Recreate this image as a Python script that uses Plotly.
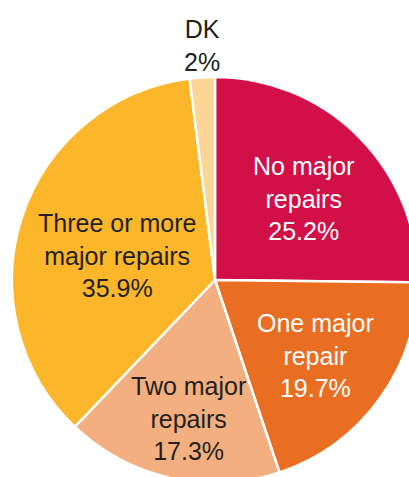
import plotly.graph_objects as go

# Slices, clockwise from 12 o'clock
labels = ["No major<br>repairs", "One major<br>repair", "Two major<br>repairs",
          "Three or more<br>major repairs", "DK"]
values = [25.2, 19.7, 17.3, 35.9, 2.0]
pct_text = ["25.2%", "19.7%", "17.3%", "35.9%", "2%"]
colors = ["#D20F46", "#E96E21", "#F3AF7F", "#FBB729", "#FDD596"]
text_colors = ["white", "white", "#231F20", "#231F20", "#231F20"]

# label centres in page pixels (the pie runs off the right/bottom edge)
label_px = [(303, 198), (315, 355), (188, 418), (117, 256), (202, 45)]

W, H = 430, 560
FONT = "Liberation Sans Narrow, Arial Narrow, Liberation Sans, Arial, sans-serif"

fig = go.Figure(
    go.Pie(
        labels=labels,
        values=values,
        sort=False,
        direction="clockwise",
        rotation=0,
        marker=dict(colors=colors, line=dict(color="white", width=2.5)),
        textinfo="none",
        hoverinfo="label+percent",
        domain=dict(x=[12 / W, 418 / W], y=[(H - 483) / H, (H - 77) / H]),
        showlegend=False,
    )
)

for lab, pct, col, (px, py) in zip(labels, pct_text, text_colors, label_px):
    fig.add_annotation(
        x=px / W, y=1 - py / H, xref="paper", yref="paper",
        text=f"{lab}<br>{pct}", showarrow=False,
        font=dict(family=FONT, size=25, color=col),
        xanchor="center", yanchor="middle", align="center",
    )

fig.update_layout(
    width=W,
    height=H,
    margin=dict(l=0, r=0, t=0, b=0),
    paper_bgcolor="white",
    plot_bgcolor="white",
)

fig.write_html(
    "out.html",
    config={"displayModeBar": False},
    post_script="document.body.style.margin='0';document.body.style.overflow='hidden';"
                "document.documentElement.style.overflow='hidden';",
)
